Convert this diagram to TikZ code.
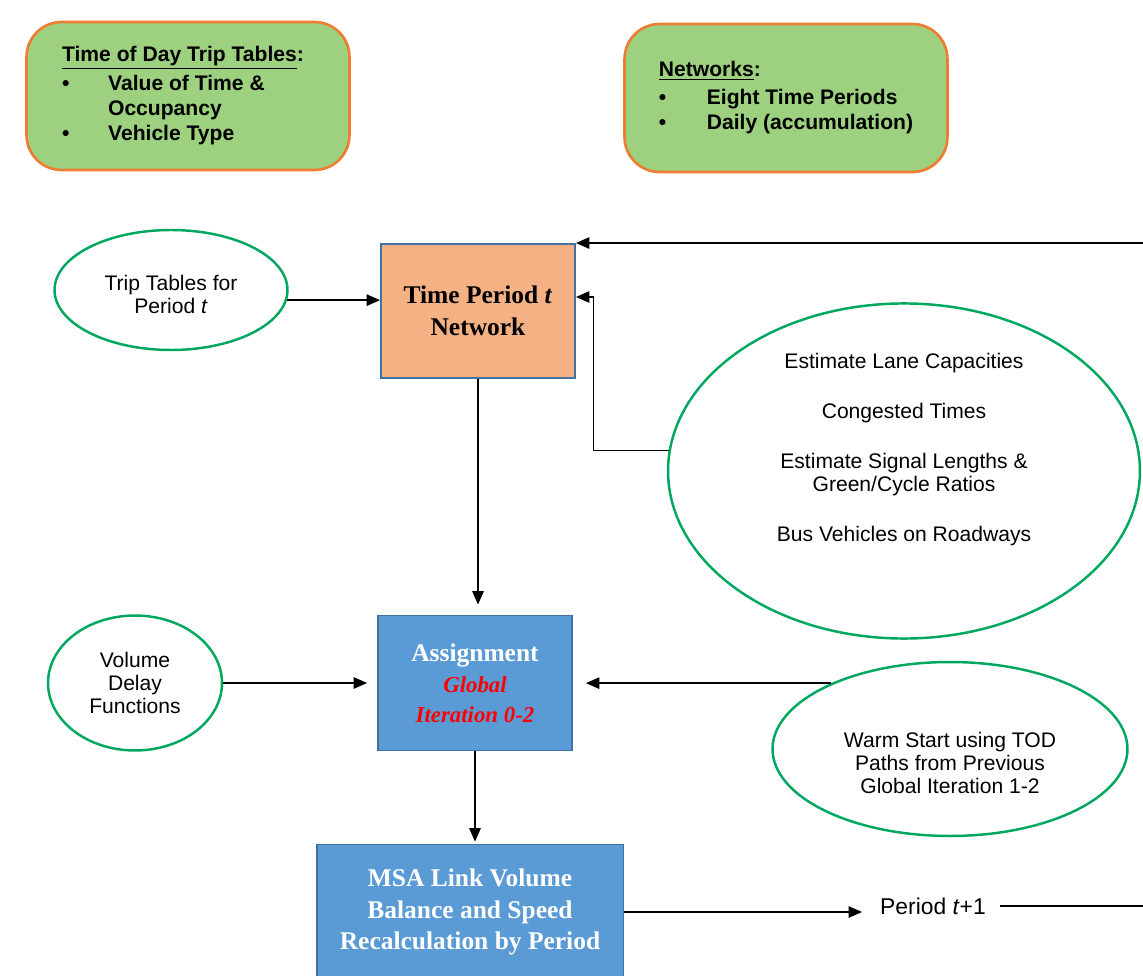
\documentclass[tikz,border=0pt]{standalone}
\usepackage{fontspec}
\setmainfont{Liberation Serif}
\setsansfont{Liberation Sans}
\definecolor{NoteGreen}{RGB}{157,209,128}
\definecolor{NoteOrange}{RGB}{237,125,49}
\definecolor{BubbleGreen}{RGB}{0,168,95}
\definecolor{PeriodOrange}{RGB}{244,177,131}
\definecolor{StepBlue}{RGB}{91,155,213}
\definecolor{EdgeBlue}{RGB}{65,113,156}
\usetikzlibrary{positioning, arrows.meta, shapes.geometric, calc}

\begin{document}
\begin{tikzpicture}[x=0.02cm,y=-0.02cm,
    note/.style={draw=NoteOrange, line width=1.5pt, fill=NoteGreen, rounded corners=0.7cm,
      minimum width=6.46cm, minimum height=2.96cm, font=\sffamily\bfseries\fontsize{12}{14.2}\selectfont},
    bubble/.style={ellipse, draw=BubbleGreen, line width=1.4pt, fill=white, inner sep=0pt,
      align=center, font=\sffamily\fontsize{12}{13}\selectfont},
    stepbox/.style={rectangle, draw=EdgeBlue, line width=1.1pt, align=center,
      font=\bfseries\fontsize{14.5}{18}\selectfont},
    flow/.style={-{Triangle[length=2.7mm,width=2.3mm]}, line width=0.8pt}
  ]
  \useasboundingbox (0,0) rectangle (1143,976);

  % inputs at the top
  \node[note] (tod) at (188,96) {\hspace*{-0.2cm}\begin{tabular}{@{}p{0.92cm}@{}l@{}}
      \multicolumn{2}{@{}l@{}}{\underline{Time of Day Trip Tables}:}\\[2pt]
      \textbullet & Value of Time \&\\
                  & Occupancy\\
      \textbullet & Vehicle Type
    \end{tabular}};
  \node[note] (nets) at (786,98) {\begin{tabular}{@{}p{0.96cm}@{}l@{}}
      \multicolumn{2}{@{}l@{}}{\underline{Networks}:}\\[2pt]
      \textbullet & Eight Time Periods\\
      \textbullet & Daily (accumulation)
    \end{tabular}};

  % main column
  \node[stepbox, fill=PeriodOrange, minimum width=3.88cm, minimum height=2.68cm] (tpnet) at (478,311)
    {Time Period \textit{t}\\Network};
  \node[stepbox, fill=StepBlue, text=white, minimum width=3.88cm, minimum height=2.7cm] (assign) at (475,683)
    {Assignment\\[-0.5pt]{\color{red}\itshape\fontsize{13}{16.5}\selectfont Global}\\[-1pt]{\color{red}\itshape\fontsize{13}{16.5}\selectfont Iteration 0-2}};
  \node[stepbox, fill=StepBlue, text=white, minimum width=6.14cm, minimum height=2.7cm] (msa) at (470,912)
    {MSA Link Volume\\Balance and Speed\\Recalculation by Period};

  % side bubbles
  \node[bubble, minimum width=4.66cm, minimum height=2.4cm] (trips) at (171,290)
    {\rule{0pt}{14pt}Trip Tables for\\Period \textit{t}};
  \node[bubble, minimum width=3.48cm, minimum height=2.7cm] (vdf) at (135,683)
    {Volume\\Delay\\Functions};
  \node[bubble, minimum width=9.44cm, minimum height=6.66cm] (est) at (904,471)
    {\begin{tabular}{@{}c@{}}
      Estimate Lane Capacities\\[0.545cm]
      Congested Times\\[0.545cm]
      Estimate Signal Lengths \&\\
      Green/Cycle Ratios\\[0.545cm]
      Bus Vehicles on Roadways\\[0.82cm]
    \end{tabular}};
  \node[bubble, minimum width=7.1cm, minimum height=3.48cm] (warm) at (950,749)
    {\begin{tabular}{@{}c@{}}
      \rule{0pt}{28pt}Warm Start using TOD\\
      Paths from Previous\\
      Global Iteration 1-2
    \end{tabular}};

  \node[font=\sffamily\fontsize{13}{15}\selectfont] (next) at (933,906) {Period \textit{t}+1};

  % connectors
  \draw[flow] (trips.355) -- (trips.355 -| tpnet.west);
  \draw[flow, shorten >=0.2cm] (tpnet.south) -- (tpnet.south |- assign.north);
  \draw[flow, shorten >=0.2cm] (vdf.east) -- (vdf.east -| assign.west);
  \draw[flow, shorten >=0.26cm] (warm.151) -- (warm.151 -| assign.east);
  \draw[flow, shorten >=0.04cm] (assign.south) -- (assign.south |- msa.north);
  \draw[flow, shorten >=0.24cm] (msa.east) -- (msa.east -| next.west);
  \coordinate (estIn) at ($(tpnet.east)+(0,-14)$);
  \draw[flow] (est.175) -- ++(-75,0) |- (estIn);
  \draw[flow, shorten <=0.16cm] (next.east) -- (1170,906) |- (tpnet.north east);
\end{tikzpicture}
\end{document}
